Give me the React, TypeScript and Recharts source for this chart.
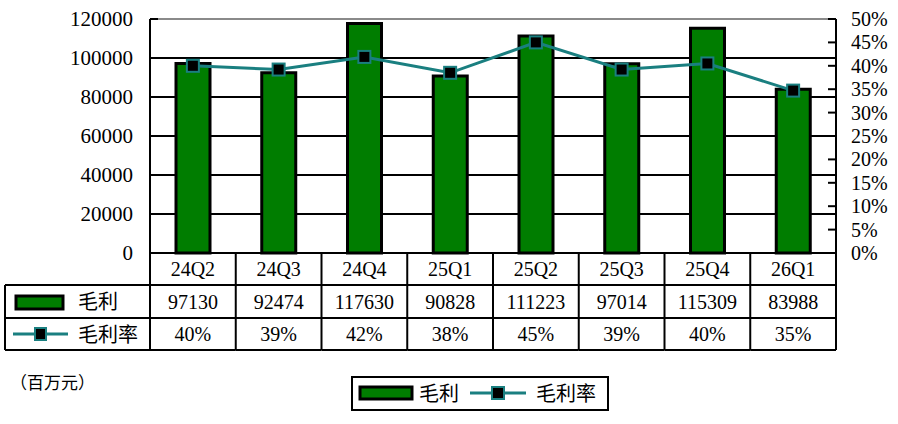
import { ComposedChart, Bar, Line, XAxis, YAxis, CartesianGrid, ReferenceLine } from "recharts";

const quarters = ["24Q2", "24Q3", "24Q4", "25Q1", "25Q2", "25Q3", "25Q4", "26Q1"];
const grossProfit = [97130, 92474, 117630, 90828, 111223, 97014, 115309, 83988];
const marginRate = [40.0, 39.2, 41.9, 38.5, 45.0, 39.2, 40.5, 34.7];
const marginLabels = ["40%", "39%", "42%", "38%", "45%", "39%", "40%", "35%"];
const leftTicks = [0, 20000, 40000, 60000, 80000, 100000, 120000];
const rightTicks = [0, 5, 10, 15, 20, 25, 30, 35, 40, 45, 50];

const W = 898;
const H = 424;
const PLOT_LEFT = 150;
const PLOT_RIGHT = 836;
const PLOT_TOP = 19;
const PLOT_BOTTOM = 253;
const ROW1 = 285;
const ROW2 = 318;
const ROW3 = 350;
const COL_W = (PLOT_RIGHT - PLOT_LEFT) / quarters.length;

const GREEN = "#007d00";
const TEAL = "#1a7f80";
const SERIF = "'Liberation Serif', 'Times New Roman', 'Noto Sans CJK SC', serif";
const CJK = "'Noto Sans CJK SC', sans-serif";

const data = quarters.map((q, i) => ({
  q,
  gp: grossProfit[i],
  rate: marginRate[i],
  gpLabel: String(grossProfit[i]),
  rateLabel: marginLabels[i],
}));

// one table column per category, placed by the x axis
function TableTick(props: any) {
  const { x, y, index } = props;
  const d = data[index];
  const l = x - COL_W / 2;
  const r = x + COL_W / 2;
  const txt = { style: { fontFamily: SERIF }, fontSize: 20, fill: "#000", textAnchor: "middle" as const };
  return (
    <g>
      {index === 0 && <line x1={l} x2={l} y1={y} y2={ROW3} stroke="#000" strokeWidth={2} />}
      <line x1={r} x2={r} y1={y} y2={ROW3} stroke="#000" strokeWidth={2} />
      <line x1={l} x2={r} y1={ROW1} y2={ROW1} stroke="#000" strokeWidth={2} />
      <line x1={l} x2={r} y1={ROW2} y2={ROW2} stroke="#000" strokeWidth={2} />
      <line x1={l} x2={r} y1={ROW3} y2={ROW3} stroke="#000" strokeWidth={2} />
      <text x={x} y={(y + ROW1) / 2 + 7} {...txt}>{d.q}</text>
      <text x={x} y={(ROW1 + ROW2) / 2 + 7} {...txt}>{d.gpLabel}</text>
      <text x={x} y={(ROW2 + ROW3) / 2 + 7} {...txt}>{d.rateLabel}</text>
    </g>
  );
}

const LEFT_GAP = 17;
function LeftTick(props: any) {
  const { x, y, payload } = props;
  const axisX = x + LEFT_GAP;
  return (
    <g>
      <line x1={axisX} x2={axisX + 8} y1={y} y2={y} stroke="#000" strokeWidth={2} />
      <text x={x} y={y + 7} textAnchor="end" style={{ fontFamily: SERIF }} fontSize={21} fill="#000">
        {payload.value}
      </text>
    </g>
  );
}

const RIGHT_GAP = 15;
function RightTick(props: any) {
  const { x, y, payload } = props;
  const axisX = x - RIGHT_GAP;
  return (
    <g>
      <line x1={axisX - 8} x2={axisX} y1={y} y2={y} stroke="#000" strokeWidth={2} />
      <text x={x} y={y + 7} textAnchor="start" style={{ fontFamily: SERIF }} fontSize={20} fill="#000">
        {payload.value + "%"}
      </text>
    </g>
  );
}

function SquareDot(props: any) {
  const { cx, cy } = props;
  if (cx == null || cy == null) return null;
  return <rect x={cx - 6} y={cy - 6} width={12} height={12} fill="#000" stroke={TEAL} strokeWidth={2} />;
}

export default function App() {
  const cjk = { style: { fontFamily: CJK }, fontSize: 20, fill: "#000" };
  return (
    <div style={{ position: "absolute", left: 0, top: 0, width: W, height: H, background: "#fff" }}>
      <ComposedChart
        width={W}
        height={H}
        data={data}
        margin={{ top: PLOT_TOP, right: 0, bottom: H - ROW3, left: 0 }}
      >
        <CartesianGrid yAxisId="left" vertical={false} stroke="#000" strokeWidth={2} />
        <ReferenceLine yAxisId="left" y={120000} stroke="#8a8a8a" strokeWidth={2} />
        <XAxis
          dataKey="q"
          height={ROW3 - PLOT_BOTTOM}
          tickSize={0}
          tickMargin={0}
          axisLine={{ stroke: "#000", strokeWidth: 2 }}
          tickLine={false}
          tick={<TableTick />}
          interval={0}
        />
        <YAxis
          yAxisId="left"
          width={PLOT_LEFT}
          domain={[0, 120000]}
          ticks={leftTicks}
          tickSize={0}
          tickMargin={LEFT_GAP}
          tickLine={false}
          axisLine={{ stroke: "#000", strokeWidth: 2 }}
          tick={<LeftTick />}
          interval={0}
        />
        <YAxis
          yAxisId="right"
          orientation="right"
          width={W - PLOT_RIGHT}
          domain={[0, 50]}
          ticks={rightTicks}
          tickSize={0}
          tickMargin={RIGHT_GAP}
          tickLine={false}
          axisLine={{ stroke: "#000", strokeWidth: 2 }}
          tick={<RightTick />}
          interval={0}
        />
        <Bar
          yAxisId="left"
          dataKey="gp"
          fill={GREEN}
          stroke="#000"
          strokeWidth={3}
          barSize={34}
          isAnimationActive={false}
        />
        <Line
          yAxisId="right"
          dataKey="rate"
          type="linear"
          stroke={TEAL}
          strokeWidth={3}
          dot={<SquareDot />}
          activeDot={false}
          isAnimationActive={false}
        />
      </ComposedChart>
      <svg
        width={W}
        height={H}
        style={{ position: "absolute", left: 0, top: 0, pointerEvents: "none" }}
      >
        {/* table header cells */}
        <line x1={5} x2={5} y1={ROW1} y2={ROW3} stroke="#000" strokeWidth={2} />
        <line x1={5} x2={PLOT_LEFT} y1={ROW1} y2={ROW1} stroke="#000" strokeWidth={2} />
        <line x1={5} x2={PLOT_LEFT} y1={ROW2} y2={ROW2} stroke="#000" strokeWidth={2} />
        <line x1={5} x2={PLOT_LEFT} y1={ROW3} y2={ROW3} stroke="#000" strokeWidth={2} />
        <rect x={16} y={296} width={47} height={13} fill={GREEN} stroke="#000" strokeWidth={3} />
        <text x={78} y={309} {...cjk}>毛利</text>
        <line x1={13} x2={68} y1={334} y2={334} stroke={TEAL} strokeWidth={3} />
        <rect x={35} y={328} width={11} height={12} fill="#000" stroke={TEAL} strokeWidth={2} />
        <text x={78} y={342} {...cjk}>毛利率</text>

        {/* unit */}
        <text x={10} y={389} style={{ fontFamily: CJK }} fontSize={17} fill="#000">（百万元）</text>

        {/* legend */}
        <rect x={352} y={377} width={256} height={33} fill="#fff" stroke="#000" strokeWidth={2} />
        <rect x={360} y={387} width={52} height={12} fill={GREEN} stroke="#000" strokeWidth={3} />
        <text x={419} y={401} {...cjk}>毛利</text>
        <line x1={470} x2={526} y1={393} y2={393} stroke={TEAL} strokeWidth={3} />
        <rect x={492} y={387} width={12} height={12} fill="#000" stroke={TEAL} strokeWidth={2} />
        <text x={536} y={401} {...cjk}>毛利率</text>
      </svg>
    </div>
  );
}
